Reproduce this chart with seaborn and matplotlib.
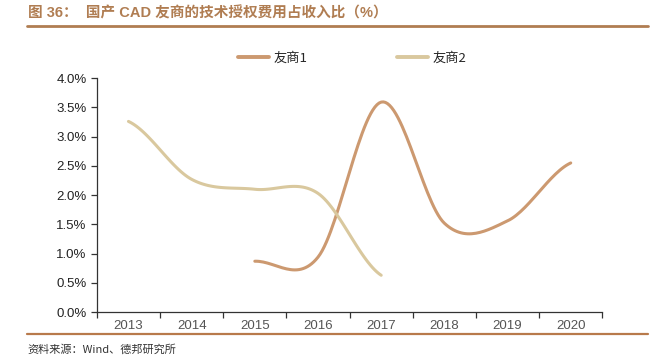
import numpy as np
import pandas as pd
import matplotlib
matplotlib.use('Agg')
import matplotlib.pyplot as plt
import seaborn as sns

# chart data (share of revenue, %)
years = ['2013', '2014', '2015', '2016', '2017', '2018', '2019', '2020']
vendor1 = [np.nan, np.nan, 0.87, 0.94, 3.59, 1.52, 1.56, 2.55]
vendor2 = [3.26, 2.27, 2.10, 2.03, 0.63, np.nan, np.nan, np.nan]
series_names = ['友商1', '友商2']
colors = ['#CC9970', '#D9C89E']
title = '图 36：  国产 CAD 友商的技术授权费用占收入比（%）'
source = '资料来源：Wind、德邦研究所'

sns.set_theme(style='white')
plt.rcParams['font.family'] = ['Liberation Sans', 'Noto Sans CJK SC', 'DejaVu Sans']


def smooth(vals, n=30):
    # Catmull-Rom style smoothing like office charts
    x = np.arange(len(vals), dtype=float)
    v = np.asarray(vals, dtype=float)
    ok = ~np.isnan(v)
    x, v = x[ok], v[ok]
    m = len(v)
    tang = np.zeros(m)
    for i in range(m):
        a = v[max(i - 1, 0)]
        b = v[min(i + 1, m - 1)]
        tang[i] = (b - a) / 2
    xs, ys = [], []
    for i in range(m - 1):
        t = np.linspace(0, 1, n, endpoint=(i == m - 2))
        h00 = 2 * t**3 - 3 * t**2 + 1
        h10 = t**3 - 2 * t**2 + t
        h01 = -2 * t**3 + 3 * t**2
        h11 = t**3 - t**2
        ys.append(h00 * v[i] + h10 * tang[i] + h01 * v[i + 1] + h11 * tang[i + 1])
        xs.append(x[i] + t)
    return np.concatenate(xs), np.concatenate(ys)


fig = plt.figure(figsize=(6.59, 3.6), dpi=100)
ax = fig.add_axes([0.147, 0.133, 0.767, 0.650])

frames = []
for name, vals in zip(series_names, [vendor1, vendor2]):
    sx, sy = smooth(vals)
    frames.append(pd.DataFrame({'x': sx, 'y': sy, 'series': name}))
df = pd.concat(frames, ignore_index=True)

sns.lineplot(data=df, x='x', y='y', hue='series', palette=colors, sort=False,
             linewidth=2.2, ax=ax, legend=False)

ax.set_xlim(-0.5, len(years) - 0.5)
ax.set_ylim(0, 4.0)
ax.set_yticks(np.arange(0, 4.01, 0.5))
ax.set_yticklabels([f'{v:.1f}%' for v in np.arange(0, 4.01, 0.5)], fontsize=9.5, color='#222222')
ax.set_xticks(np.arange(-0.5, len(years), 1))
ax.set_xticklabels([])
ax.set_xticks(np.arange(len(years)), minor=True)
ax.set_xticklabels(years, minor=True, fontsize=9.5, color='#555555')
ax.tick_params(axis='x', which='major', length=4, width=0.9, color='#333333', direction='out', bottom=True)
ax.tick_params(axis='x', which='minor', length=0, pad=6, bottom=True)
ax.tick_params(axis='y', length=4, width=0.9, color='#333333', direction='out', left=True)
ax.set_xlabel('')
ax.set_ylabel('')
for s in ['top', 'right']:
    ax.spines[s].set_visible(False)
for s in ['left', 'bottom']:
    ax.spines[s].set_color('#333333')
    ax.spines[s].set_linewidth(0.9)

handles = [plt.Line2D([], [], color=c, lw=2.8) for c in colors]
leg = fig.legend(handles, series_names, loc='center', bbox_to_anchor=(0.534, 0.838), ncol=2,
                 frameon=False, fontsize=9.5, handlelength=2.4, columnspacing=6.8,
                 handletextpad=0.3)
for t in leg.get_texts():
    t.set_family(['Noto Sans CJK SC', 'DejaVu Sans'])

fig.text(0.042, 0.962, title, fontsize=10.5, fontweight='bold', color='#B07D52',
         va='center', ha='left', family=['Liberation Sans', 'Noto Sans CJK SC'])
fig.add_artist(plt.Line2D([0.041, 0.983], [0.928, 0.928], color='#B07D52', lw=2))
fig.add_artist(plt.Line2D([0.041, 0.983], [0.072, 0.072], color='#B87A4B', lw=1.6))
fig.text(0.042, 0.028, source, fontsize=8, color='#333333', va='center', ha='left',
         family=['Noto Sans CJK SC', 'DejaVu Sans'])

fig.savefig('out.png', dpi=100)
